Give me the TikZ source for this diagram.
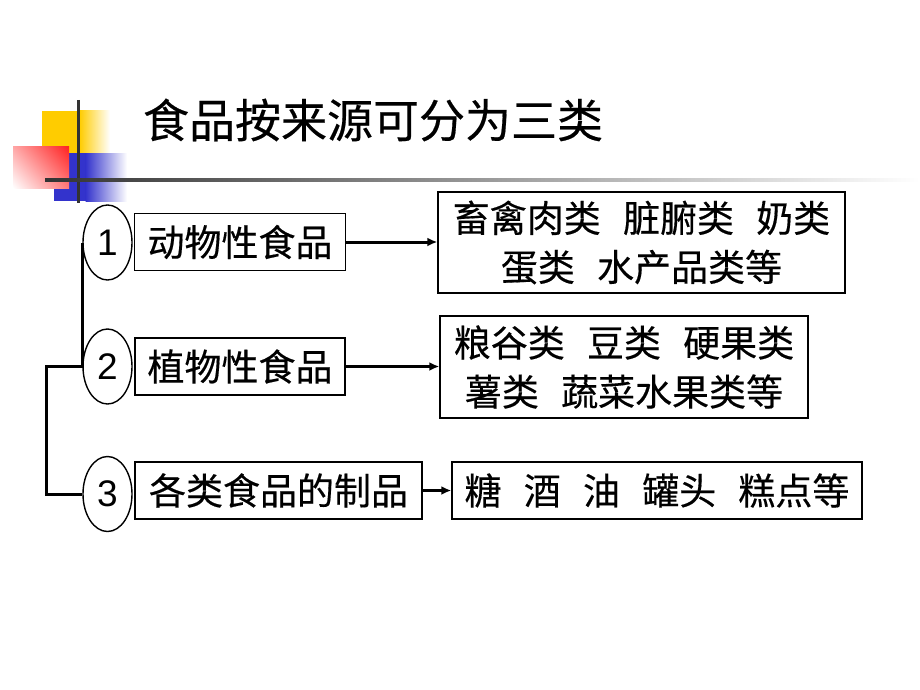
\documentclass[tikz,border=0pt]{standalone}
\usepackage{fontspec}
\setmainfont{Liberation Sans}
\newfontfamily\cjk[FakeBold=0.4]{Noto Sans CJK SC}
\usepackage{xcolor}
\usepackage{tikz}
\usetikzlibrary{calc,shapes.geometric,arrows.meta,shadings}

\definecolor{decoyellow}{HTML}{FFCC00}
\definecolor{decored}{HTML}{FF2020}
\definecolor{decoblue}{HTML}{3333CC}
\definecolor{decoline}{HTML}{333333}

\newcommand{\gap}{\hspace{0.6em}}

\begin{document}
\begin{tikzpicture}[x=1pt, y=-1pt, line width=1.4pt,
    box/.style={draw, inner sep=0pt, font=\cjk\fontsize{37}{49}\selectfont, align=center},
    num/.style={draw, ellipse, inner sep=0pt, minimum width=49pt, minimum height=75pt, font=\fontsize{37}{40}\selectfont},
    link/.style={line width=3pt},
    arr/.style={line width=3pt, -{Latex[length=10pt,width=9pt]}}]
            \useasboundingbox (0,0) rectangle (920,690);

            % corner decoration
            \fill[decoyellow] (42,111) rectangle (80,153);
            \shade[left color=decoyellow, right color=white] (79.5,111) rectangle (110,153);
            \fill[decoblue] (54,153) rectangle (86,201);
            \shade[left color=decoblue, right color=white] (85.5,153) rectangle (127,201);
            \shade[lower left=white, upper right=decored, lower right=decored!60, upper left=decored!40] (13,146) rectangle (69,188);
            \draw[decoline, line width=3pt] (78,100) -- (78,203);
            \shade[left color=decoline, right color=white] (45,178.5) rectangle (920,181.5);

            \node[font=\cjk\fontsize{46}{50}\selectfont, anchor=west] (title) at (139,120) {食品按来源可分为三类};

            \node[num] (c1) at (107.5,242.5) {1};
            \node[num] (c2) at (107.5,366.5) {2};
            \node[num] (c3) at (107.5,494) {3};

            \node[box, minimum width=211pt, minimum height=57pt] (k1) at (240,242) {动物性食品};
            \node[box, minimum width=210pt, minimum height=57pt] (k2) at (240,366.5) {植物性食品};
            \node[box, minimum width=287pt, minimum height=57pt] (k3) at (278.5,490.5) {各类食品的制品};

            \node[box, minimum width=407pt, minimum height=101pt] (d1) at (641.5,242.5) {畜禽肉类\gap 脏腑类\gap 奶类\\蛋类\gap 水产品类等};
            \node[box, minimum width=368pt, minimum height=102pt] (d2) at (624,367) {粮谷类\gap 豆类\gap 硬果类\\薯类\gap 蔬菜水果类等};
            \node[box, minimum width=410pt, minimum height=57pt] (d3) at (657,490.5) {糖\gap 酒\gap 油\gap 罐头\gap 糕点等};

            \draw[link] (c1.west) -- (c2.west) -- ++(-36,0) |- (c3.west);

            \draw[arr] (k1) -- (d1.west |- k1);
            \draw[arr] (k2) -- (d2.west |- k2);
            \draw[arr] (k3) -- (d3);
        \end{tikzpicture}
\end{document}
